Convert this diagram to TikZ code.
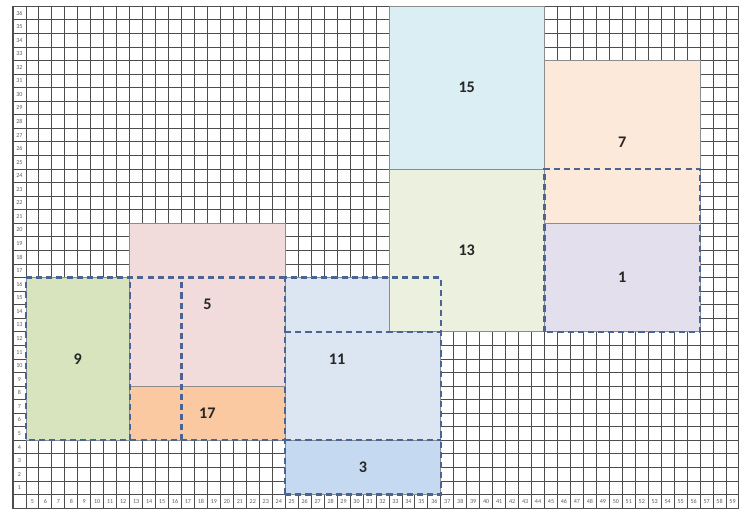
\documentclass[tikz,border=0pt]{standalone}
\usepackage{fontspec}
\setmainfont{Carlito}
\usetikzlibrary{positioning}
\definecolor{ink}{HTML}{262626}
\definecolor{grid-ink}{HTML}{4D4D4D}
\definecolor{edge-grey}{HTML}{8C8C8C}
\definecolor{plan-blue}{HTML}{4A6593}
\definecolor{tone-green}{HTML}{D7E4BD}
\definecolor{tone-pink}{HTML}{F2DCDB}
\definecolor{tone-orange}{HTML}{FAC9A2}
\definecolor{tone-sky}{HTML}{DCE6F2}
\definecolor{tone-blue}{HTML}{C5D9F1}
\definecolor{tone-cyan}{HTML}{DAEEF3}
\definecolor{tone-lime}{HTML}{EBF1DE}
\definecolor{tone-peach}{HTML}{FDE9D9}
\definecolor{tone-lilac}{HTML}{E4DFEC}

\begin{document}
\begin{tikzpicture}[
    x=0.45cm, y=0.4708cm,
    gridline/.style={draw=grid-ink, line width=0.8pt},
    frame/.style={draw=grid-ink, line width=1.2pt},
    block/.style={draw=edge-grey, line width=0.8pt},
    plan/.style={draw=plan-blue, line width=2.2pt, dash pattern=on 6pt off 4pt},
    blocklabel/.style={font=\fontsize{16}{16}\selectfont\bfseries, text=ink},
    axislabel/.style={font=\fontsize{6}{6}\selectfont, text=ink!75, inner sep=0pt},
]
\useasboundingbox (-2.0,-1.2) rectangle (55,36.46);

% =====================================================================
% GRID — columns 5..59, rows 1..36, plus one label row and column
% =====================================================================

\fill[white] (-1,-1) rectangle (55,36);
\foreach \gx in {-1,...,55}
    \draw[gridline] (\gx,-1) -- (\gx,36);
\foreach \gy in {-1,...,36}
    \draw[gridline] (-1,\gy) -- (55,\gy);
\draw[frame] (-1,-1) rectangle (55,36);

\foreach \gx [evaluate=\gx as \col using int(\gx+5)] in {0,...,54}
    \node[axislabel] (colno-\col) at (\gx+0.5,-0.5) {\col};
\foreach \gy [evaluate=\gy as \row using int(\gy+1)] in {0,...,35}
    \node[axislabel] (rowno-\row) at (-0.5,\gy+0.5) {\row};

% =====================================================================
% BLOCKS
% =====================================================================

\draw[block, fill=tone-green]  (0,4)   rectangle (8,16);
\draw[block, fill=tone-pink]   (8,8)   rectangle (20,20);
\draw[block, fill=tone-orange] (8,4)   rectangle (20,8);
\draw[block, fill=tone-sky]    (20,4)  rectangle (32,16);
\draw[block, fill=tone-blue]   (20,0)  rectangle (32,4);
\draw[block, fill=tone-cyan]   (28,24) rectangle (40,36);
\draw[block, fill=tone-lime]   (28,12) rectangle (40,24);
\draw[block, fill=tone-peach]  (40,20) rectangle (52,32);
\draw[block, fill=tone-lilac]  (40,12) rectangle (52,20);

% =====================================================================
% DASHED PLANS (each edge drawn once, so the dashes stay open)
% =====================================================================

\draw[plan] (20,16) -- (0,16) -- (0,4) -- (20,4);
\draw[plan] (8,4)   -- (8,16);
\draw[plan] (12,4)  -- (12,16);
\draw[plan] (20,0)  rectangle (32,16);
\draw[plan] (20,4)  -- (32,4);
\draw[plan] (20,12) -- (32,12);
\draw[plan] (40,12) rectangle (52,24);

% =====================================================================
% LABELS
% =====================================================================

\node[blocklabel] (b9)  at (4,10)  {9};
\node[blocklabel] (b5)  at (14,14) {5};
\node[blocklabel] (b17) at (14,6)  {17};
\node[blocklabel] (b11) at (24,10) {11};
\node[blocklabel] (b3)  at (26,2)  {3};
\node[blocklabel] (b15) at (34,30) {15};
\node[blocklabel] (b13) at (34,18) {13};
\node[blocklabel] (b7)  at (46,26) {7};
\node[blocklabel] (b1)  at (46,16) {1};

\end{tikzpicture}
\end{document}
